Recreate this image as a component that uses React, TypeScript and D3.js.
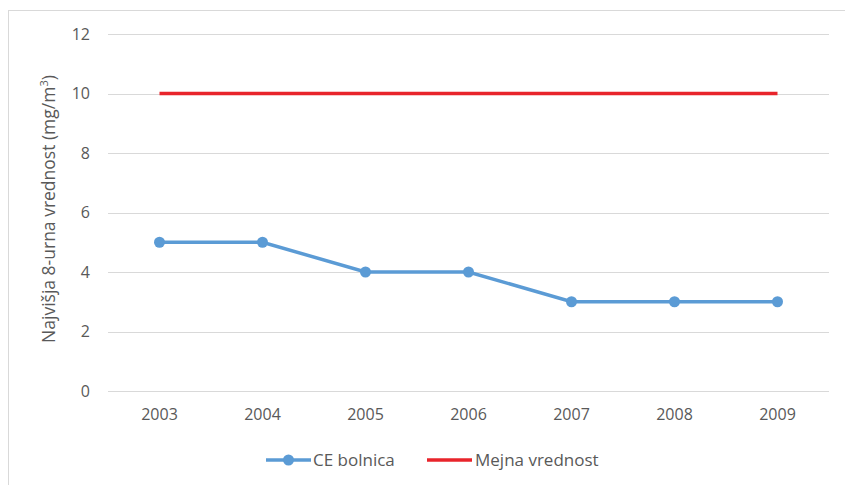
import React from 'react';
import * as d3 from 'd3';

const years = ['2003', '2004', '2005', '2006', '2007', '2008', '2009'];
const bolnica = [5, 5, 4, 4, 3, 3, 3];
const mejna = [10, 10, 10, 10, 10, 10, 10];
const yTicks = [0, 2, 4, 6, 8, 10, 12];

const W = 845;
const H = 485;
const plot = { left: 108, right: 829, top: 34, bottom: 391 };
const font = '"Open Sans", sans-serif';

export default function App() {
  const x = d3.scalePoint<string>()
    .domain(years)
    .range([plot.left, plot.right])
    .padding(0.5);
  const y = d3.scaleLinear().domain([0, 12]).range([plot.bottom, plot.top]);

  const line = d3.line<number>()
    .x((_, i) => x(years[i]) as number)
    .y(d => y(d));

  return (
    <svg width={W} height={H} style={{ position: 'absolute', left: 0, top: 0 }}>
      <rect x={0} y={0} width={W} height={H} fill="#fff" />
      {/* chart frame (only left and top visible) */}
      <line x1={8.5} x2={8.5} y1={10} y2={H} stroke="#d9d9d9" />
      <line x1={8} x2={W} y1={10.5} y2={10.5} stroke="#d9d9d9" />

      {yTicks.map(t => (
        <g key={t}>
          <line x1={plot.left} x2={plot.right} y1={Math.round(y(t)) + 0.5} y2={Math.round(y(t)) + 0.5}
            stroke="#d9d9d9" strokeWidth={1} />
          <text x={90} y={y(t)} dy="0.35em" textAnchor="end" fontFamily={font} fontSize={16} fill="#595959">{t}</text>
        </g>
      ))}

      {years.map(yr => (
        <text key={yr} x={x(yr)} y={420} textAnchor="middle" fontFamily={font} fontSize={16} fill="#595959">{yr}</text>
      ))}

      <text transform={`translate(55,${209}) rotate(-90)`} textAnchor="middle"
        fontFamily={font} fontSize={17.5} fill="#595959">
        Najvišja 8-urna vrednost (mg/m<tspan baselineShift="super" fontSize={11}>3</tspan>)
      </text>

      <path d={line(mejna) || ''} fill="none" stroke="#E8242B" strokeWidth={3.5} />
      <path d={line(bolnica) || ''} fill="none" stroke="#5B9BD5" strokeWidth={3.5} />
      {bolnica.map((v, i) => (
        <circle key={i} cx={x(years[i])} cy={y(v)} r={5.5} fill="#5B9BD5" />
      ))}

      {/* legend */}
      <g fontFamily={font} fontSize={17} fill="#595959">
        <line x1={266} x2={311} y1={460} y2={460} stroke="#5B9BD5" strokeWidth={3.5} />
        <circle cx={288.5} cy={460} r={5.5} fill="#5B9BD5" />
        <text x={313} y={460} dy="0.35em">CE bolnica</text>
        <line x1={427} x2={472} y1={460} y2={460} stroke="#E8242B" strokeWidth={3.5} />
        <text x={475} y={460} dy="0.35em">Mejna vrednost</text>
      </g>
    </svg>
  );
}
